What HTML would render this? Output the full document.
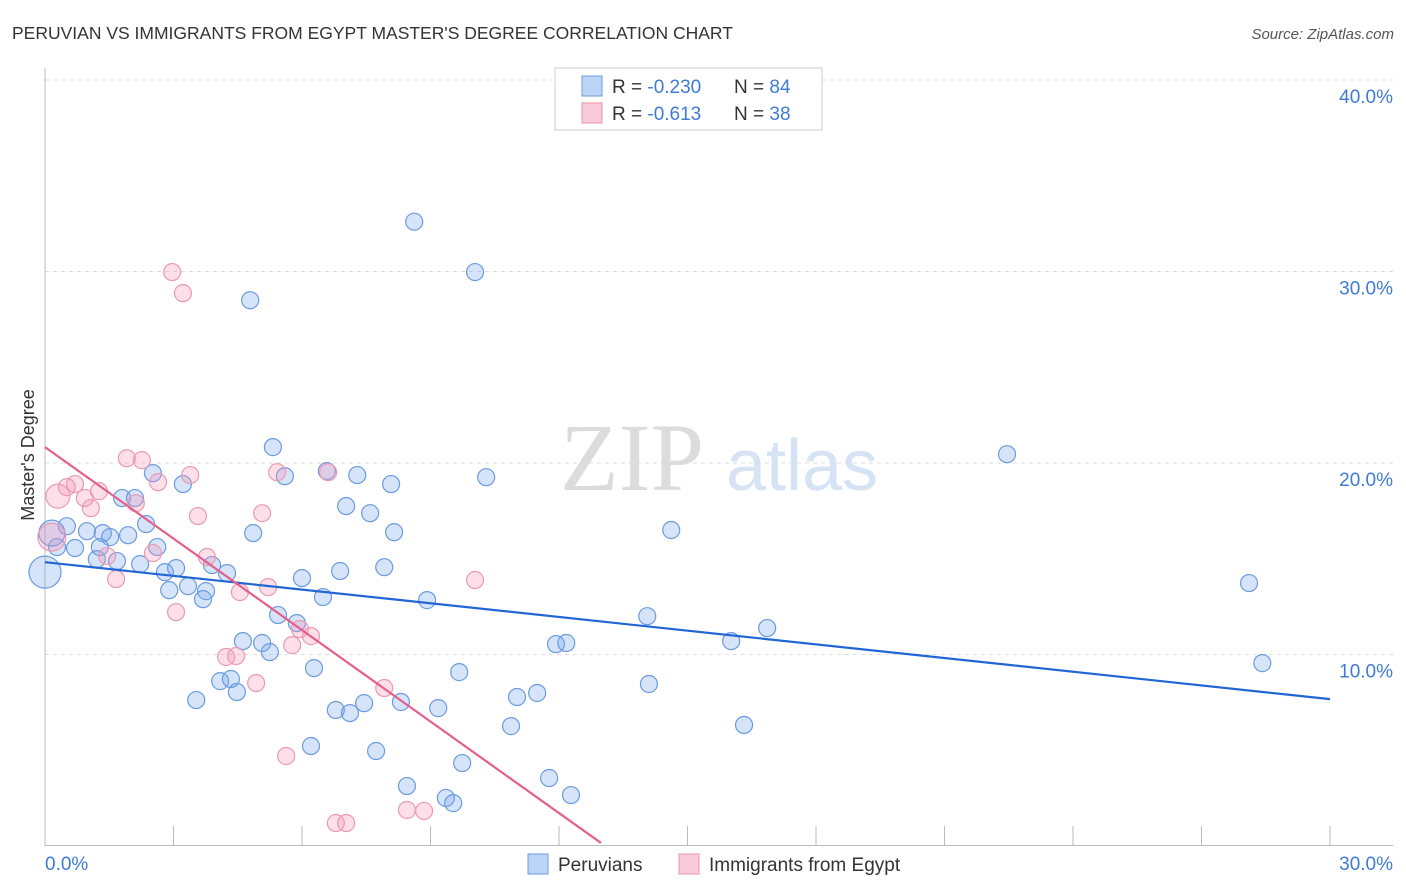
<!DOCTYPE html>
<html><head><meta charset="utf-8"><style>
body{margin:0;background:#fff;font-family:"Liberation Sans",sans-serif;}
</style></head><body>
<svg width="1406" height="892" viewBox="0 0 1406 892" style="display:block">
<text x="12" y="39" font-size="17.5" fill="#333">PERUVIAN VS IMMIGRANTS FROM EGYPT MASTER'S DEGREE CORRELATION CHART</text>
<text x="1394" y="39" font-size="15" fill="#555" font-style="italic" text-anchor="end">Source: ZipAtlas.com</text>
<g>
<text x="632" y="490" font-size="96" fill="#dcdcdc" font-family="Liberation Serif,serif" text-anchor="middle">ZIP</text>
<text x="802" y="490" font-size="72" fill="#d6e3f5" text-anchor="middle">atlas</text>
</g>
<g id="grid"></g>
<line x1="45" y1="68" x2="45" y2="846" stroke="#bbb"/>
<line x1="45" y1="845.5" x2="1393" y2="845.5" stroke="#bbb"/>
<g id="xticks"></g>
<text x="45" y="870" font-size="19" fill="#3f7bd6">0.0%</text>
<text x="1393" y="870" font-size="19" fill="#3f7bd6" text-anchor="end">30.0%</text>
<text transform="translate(34,455) rotate(-90)" font-size="18" fill="#333" text-anchor="middle">Master's Degree</text>
<g id="pts"></g>
<g id="lines"></g>
<g>
<rect x="555" y="68" width="267" height="62" fill="#fff" stroke="#ccc"/>
<rect x="582" y="76" width="20" height="20" fill="#bcd4f5" stroke="#6b9be0"/>
<rect x="582" y="103" width="20" height="20" fill="#f9cad8" stroke="#e894ae"/>
<text x="612" y="93" font-size="19" fill="#333">R = <tspan fill="#3f7bd6">-0.230</tspan></text>
<text x="734" y="93" font-size="19" fill="#333">N = <tspan fill="#3f7bd6">84</tspan></text>
<text x="612" y="120" font-size="19" fill="#333">R =  <tspan fill="#3f7bd6">-0.613</tspan></text>
<text x="734" y="120" font-size="19" fill="#333">N = <tspan fill="#3f7bd6">38</tspan></text>
</g>
<g>
<rect x="528" y="854" width="20" height="20" fill="#bcd4f5" stroke="#6b9be0"/>
<text x="558" y="871" font-size="19" fill="#333">Peruvians</text>
<rect x="679" y="854" width="20" height="20" fill="#f9cad8" stroke="#e894ae"/>
<text x="709" y="871" font-size="19" fill="#333">Immigrants from Egypt</text>
</g>
</svg>
<script>
const yTicks=[10,20,30,40];
const yTickLabels=["10.0%","20.0%","30.0%","40.0%"];
const xTickVals=[0,3,6,9,12,15,18,21,24,27,30];
const blueX=[8.62,10.04,4.79,22.46,5.32,2.52,3.22,5.6,6.58,7.29,8.08,10.3,1.8,2.1,7.03,7.59,2.36,0.51,0.98,1.35,1.94,1.52,4.86,8.15,14.62,0.28,0.7,1.28,2.62,1.21,1.68,2.22,2.8,3.06,3.9,4.25,6.0,6.89,7.92,2.9,3.34,3.76,3.69,6.49,8.92,28.11,5.44,5.88,14.06,16.86,4.62,5.07,5.25,11.93,12.17,16.02,6.28,9.67,28.42,4.09,4.34,4.48,14.1,3.53,11.02,11.49,8.31,6.79,7.12,7.45,9.18,10.88,16.32,6.21,7.73,9.74,11.77,8.45,12.28,9.36,9.53,0,0.16];
const blueY=[32.6,29.97,28.5,20.46,20.83,19.47,18.9,19.31,19.58,19.37,18.9,19.26,18.17,18.17,17.75,17.38,16.81,16.7,16.44,16.34,16.23,16.13,16.34,16.39,16.5,15.61,15.56,15.61,15.61,14.98,14.88,14.72,14.3,14.51,14.67,14.25,13.99,14.36,14.56,13.36,13.57,13.31,12.89,13.0,12.84,13.73,12.06,11.64,12.0,11.38,10.7,10.6,10.13,10.54,10.6,10.7,9.29,9.08,9.55,8.61,8.72,8.04,8.46,7.62,7.78,7.99,7.52,7.1,6.94,7.46,7.2,6.26,6.32,5.22,4.96,4.33,3.55,3.13,2.66,2.51,2.24,14.3,16.34];
const blueR=blueX.map((v,i)=>i===81?16:(i===82?13:8.5));
const pinkX=[2.97,3.22,1.91,2.26,0.51,0.7,1.26,0.3,0.93,1.07,2.12,2.64,3.39,3.57,5.07,5.42,6.61,0.16,1.45,2.52,3.78,1.66,4.55,5.21,10.04,3.06,5.95,6.21,5.77,4.23,4.46,4.93,7.92,5.63,6.79,7.03,8.45,8.85];
const pinkY=[29.97,28.87,20.25,20.15,18.74,18.9,18.53,18.27,18.17,17.64,17.9,19.0,19.37,17.23,17.38,19.52,19.52,16.13,15.14,15.3,15.09,13.94,13.26,13.52,13.89,12.21,11.33,10.96,10.49,9.87,9.92,8.51,8.25,4.7,1.2,1.2,1.88,1.83];
const pinkR=pinkX.map((v,i)=>i===7?12:(i===17?14:8.5));
const blueLine=[[0,14.82],[30,7.67]];
const pinkLine=[[0,20.83],[12.98,0.16]];
const NS="http://www.w3.org/2000/svg";
const sx=v=>45+v/30*1285;
const sy=v=>846-v*19.15;
function mk(t,a,p){const e=document.createElementNS(NS,t);for(const k in a)e.setAttribute(k,a[k]);p.appendChild(e);return e;}
const grid=document.getElementById('grid');
yTicks.forEach((t,i)=>{
 const l=mk('line',{x1:45,x2:1393,y1:sy(t),y2:sy(t),stroke:'#ddd','stroke-dasharray':'4,4'},grid);
 
 
 const tx=mk('text',{x:1393,y:sy(t)+23,'font-size':19,fill:'#3f7bd6','text-anchor':'end'},grid);
 tx.textContent=yTickLabels[i];
 
 
});
const xt=document.getElementById('xticks');
xTickVals.forEach(v=>{
 const l=mk('line',{x1:sx(v),x2:sx(v),y1:826,y2:846,stroke:'#bbb'},xt);
 
 
});
const pts=document.getElementById('pts');
blueX.forEach((v,i)=>{
 const c=mk('circle',{cx:sx(v),cy:sy(blueY[i]),r:blueR[i],fill:'rgba(120,165,235,0.3)',stroke:'#6b9be0','stroke-width':1.2},pts);
 
 
});
pinkX.forEach((v,i)=>{
 const c=mk('circle',{cx:sx(v),cy:sy(pinkY[i]),r:pinkR[i],fill:'rgba(245,150,180,0.3)',stroke:'#eb9ab3','stroke-width':1.2},pts);
 
 
});
const lg=document.getElementById('lines');
const bl=mk('line',{x1:sx(blueLine[0][0]),y1:sy(blueLine[0][1]),x2:sx(blueLine[1][0]),y2:sy(blueLine[1][1]),stroke:'#2166d4','stroke-width':2.2},lg);


const pl=mk('line',{x1:sx(pinkLine[0][0]),y1:sy(pinkLine[0][1]),x2:sx(pinkLine[1][0]),y2:sy(pinkLine[1][1]),stroke:'#e3608c','stroke-width':2.2},lg);


</script>
</body></html>
